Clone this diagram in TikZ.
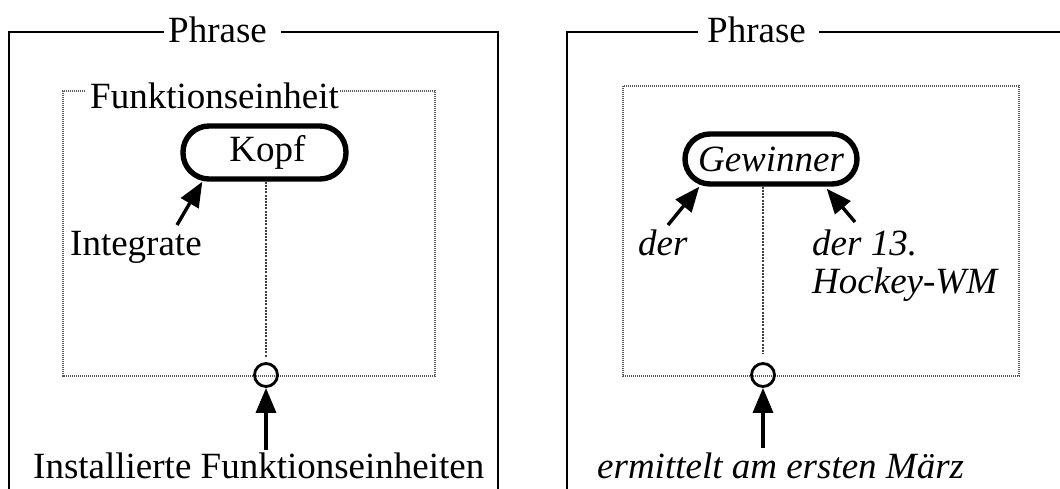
\documentclass[tikz,border=0pt]{standalone}
\usepackage{fontspec}
\setmainfont{Liberation Serif}
\usetikzlibrary{arrows.meta,calc}
\begin{document}
\begin{tikzpicture}[x=1pt,y=-1pt,
  txt/.style={inner sep=0pt,anchor=base west,font=\fontsize{37}{40}\selectfont},
  frame/.style={line width=2.8pt,line cap=rect},
  fbox/.style={draw=gray!70!black,line width=2pt,dash pattern=on 1.2pt off 0.8pt},
  headnode/.style={draw,line width=5.4pt,inner sep=0pt,font=\fontsize{37}{40}\selectfont},
  vline/.style={draw=black!75,line width=1.8pt,dash pattern=on 2pt off 1.2pt},
  ring/.style={draw,circle,line width=2.8pt,minimum size=23pt,inner sep=0pt},
  arr/.style={line width=3.4pt,-{Triangle[length=25pt,width=20pt]}}]
\useasboundingbox (0,0) rectangle (1060,488);

% ---------- left panel ----------
\node[txt] (ph1) at (168,42) {Phrase};
\draw[frame] (163,32) -- (9,32) -- (9,488);
\draw[frame] (282,32) -- (498,32) -- (498,488);

\node[txt] (fe) at (90,108) {Funktionseinheit};
\draw[fbox] (85,91) -- (63,91) -- (63,376) -- (435,376) -- (435,91) -- (340,91);

\node[headnode,rounded corners=26pt,minimum width=163pt,minimum height=53pt] (kopf) at (264.5,152.5) {\hspace*{6pt}Kopf};
\node[ring] (c1) at (266,375) {};
\draw[vline] (kopf.south -| c1) -- ($(c1.north)+(0,-5)$);

\node[txt] (integ) at (70,255) {Integrate};
\coordinate (ia) at (177,225);
\draw[arr] (ia) -- ($(kopf.south west)+(22,0)$);

\node[txt] (inst) at (33,478) {Installierte Funktionseinheiten};
\coordinate (ib) at (266,450);
\draw[arr] (ib) -- (c1.south);

% ---------- right panel ----------
\node[txt] (ph2) at (707,42) {Phrase};
\draw[frame] (697,32) -- (567,32) -- (567,488);
\draw[frame] (820,32) -- (1062,32);

\draw[fbox] (623,86) rectangle (1019,376);

\node[headnode,rounded corners=25pt,minimum width=172pt,minimum height=50pt] (gew) at (771,159) {\itshape Gewinner};
\node[ring] (c2) at (763,375) {};
\draw[vline] (gew.south -| c2) -- ($(c2.north)+(0,-8)$);

\node[txt,font=\fontsize{37}{40}\selectfont\itshape] (der) at (638,255) {der};
\coordinate (da) at (668,225);
\draw[arr] (da) -- ($(gew.south west)+(17,0)$);

\node[txt,font=\fontsize{37}{40}\selectfont\itshape] (der13) at (812,255) {der 13.};
\node[txt,font=\fontsize{37}{40}\selectfont\itshape] (hwm) at (812,293) {Hockey-WM};
\coordinate (dba) at (855,222);
\draw[arr] (dba) -- ($(gew.south east)+(-33,2)$);

\node[txt,font=\fontsize{37}{40}\selectfont\itshape] (erm) at (597,478) {ermittelt am ersten März};
\coordinate (eb) at (763,448);
\draw[arr] (eb) -- (c2.south);
\end{tikzpicture}
\end{document}
